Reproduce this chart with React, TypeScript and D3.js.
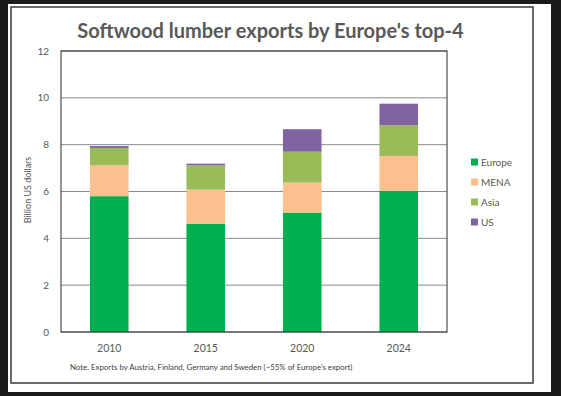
import React from "react";
import * as d3 from "d3";

const years = ["2010", "2015", "2020", "2024"];
const seriesNames = ["Europe", "MENA", "Asia", "US"];
const europe = [5.8, 4.63, 5.1, 6.03];
const mena = [1.32, 1.45, 1.28, 1.49];
const asia = [0.74, 1.03, 1.32, 1.31];
const us = [0.08, 0.08, 0.96, 0.92];
const yTicks = [0, 2, 4, 6, 8, 10, 12];
const colors = ["#00B050", "#FAC090", "#9BBB59", "#8064A2"];

const W = 561;
const H = 396;
const plot = { left: 61, right: 447, top: 51, bottom: 332 };
const font = "Lato, 'Open Sans', sans-serif";
const grey = "#595959";

export default function App() {
  const x = d3
    .scaleBand<string>()
    .domain(years)
    .range([plot.left, plot.right])
    .paddingInner(0.6)
    .paddingOuter(0.3);
  const y = d3.scaleLinear().domain([0, 12]).range([plot.bottom, plot.top]);

  const rows = years.map((yr, i) => ({
    year: yr,
    Europe: europe[i],
    MENA: mena[i],
    Asia: asia[i],
    US: us[i],
  }));
  const stacked = d3.stack<any>().keys(seriesNames)(rows);

  return (
    <svg
      width={W}
      height={H}
      style={{ position: "absolute", left: 0, top: 0 }}
      fontFamily={font}
    >
      <rect x={0} y={0} width={W} height={H} fill="#1b1b1b" />
      <rect x={8} y={4} width={543} height={388} fill="#ffffff" />
      <rect
        x={11}
        y={7}
        width={522}
        height={376}
        fill="none"
        stroke="#3a3a3a"
        strokeWidth={1.5}
      />
      <text
        x={270.5}
        y={38}
        textAnchor="middle"
        fontSize={20}
        fontWeight="bold"
        fill={grey}
      >
        Softwood lumber exports by Europe's top-4
      </text>

      {yTicks.map((t) => (
        <g key={t}>
          <line
            x1={plot.left}
            x2={plot.right}
            y1={y(t)}
            y2={y(t)}
            stroke="#8a8a8a"
            strokeWidth={1}
          />
          <text
            x={49}
            y={y(t) + 3.5}
            textAnchor="end"
            fontSize={10}
            fill={grey}
          >
            {t}
          </text>
        </g>
      ))}

      {stacked.map((s, si) =>
        s.map((d, i) => (
          <rect
            key={seriesNames[si] + i}
            x={x(years[i])}
            width={x.bandwidth()}
            y={y(d[1])}
            height={y(d[0]) - y(d[1])}
            fill={colors[si]}
          />
        ))
      )}

      <rect
        x={plot.left}
        y={plot.top}
        width={plot.right - plot.left}
        height={plot.bottom - plot.top}
        fill="none"
        stroke="#2a2a2a"
        strokeWidth={1}
      />

      {years.map((yr) => (
        <text
          key={yr}
          x={(x(yr) as number) + x.bandwidth() / 2}
          y={352}
          textAnchor="middle"
          fontSize={10.5}
          fill={grey}
        >
          {yr}
        </text>
      ))}

      <text
        transform={`translate(31,190) rotate(-90)`}
        textAnchor="middle"
        fontSize={9}
        fill={grey}
      >
        Billion US dollars
      </text>

      {seriesNames.map((n, i) => (
        <g key={n} transform={`translate(471,${162 + i * 20})`}>
          <rect x={0} y={-3.5} width={7} height={7} fill={colors[i]} />
          <text x={10} y={3.5} fontSize={10} fill={grey}>
            {n}
          </text>
        </g>
      ))}

      <text x={70} y={370} fontSize={7.85} fill="#404040">
        Note. Exports by Austria, Finland, Germany and Sweden (~55% of Europe's export)
      </text>
    </svg>
  );
}
